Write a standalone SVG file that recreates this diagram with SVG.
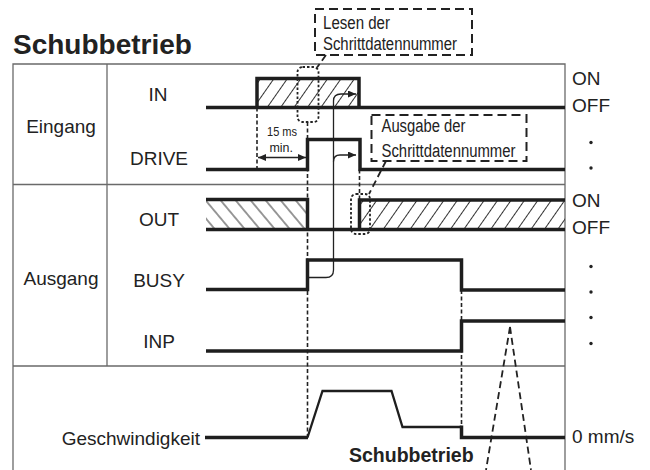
<svg xmlns="http://www.w3.org/2000/svg" width="650" height="470" viewBox="0 0 650 470">
<style>
text{font-family:"Liberation Sans",Arial,sans-serif;fill:#222}
.lbl{font-size:19px}
.mid{text-anchor:middle}
.tbl{stroke:#6a6a6a;stroke-width:1.3;fill:none}
.sig{stroke:#1e1e1e;stroke-width:3.5;fill:none;stroke-linejoin:miter}
.vel{stroke:#1e1e1e;stroke-width:2.3;fill:none;stroke-linejoin:miter}
.dash{stroke:#222;stroke-width:1.6;fill:none;stroke-dasharray:4 2.5}
.dot{stroke:#222;stroke-width:1.8;fill:none;stroke-dasharray:2.5 2}
.call{stroke:#222;stroke-width:2;fill:none;stroke-dasharray:9 5}
.thin{stroke:#222;stroke-width:1.3;fill:none}
.lead{stroke:#222;stroke-width:1.8;fill:none;stroke-dasharray:7 4}
</style>
<defs>
<pattern id="hR" patternUnits="userSpaceOnUse" width="11" height="11" patternTransform="rotate(35)"><line x1="5.5" y1="-1" x2="5.5" y2="12" stroke="#333" stroke-width="1"/></pattern>
<pattern id="hL" patternUnits="userSpaceOnUse" width="11.5" height="11.5" patternTransform="rotate(-40)"><line x1="5.75" y1="-1" x2="5.75" y2="12.5" stroke="#333" stroke-width="1"/></pattern>
<marker id="ah" markerUnits="userSpaceOnUse" markerWidth="9" markerHeight="8" refX="8" refY="3.5" orient="auto-start-reverse" viewBox="0 0 9 8"><path d="M0,0 L8,3.5 L0,7 z" fill="#222"/></marker>
</defs>

<g id="title"><text x="13" y="54" style="font-size:28px;font-weight:bold">Schubbetrieb</text></g>

<g id="table">
<path class="tbl" d="M13 470 V64 H565 V470 M107 64 V366 M13 184.5 H565 M13 366 H565"/>
</g>

<g id="labels">
<text class="lbl mid" x="61" y="133">Eingang</text>
<text class="lbl mid" x="61" y="285">Ausgang</text>
<text class="lbl mid" x="158" y="101">IN</text>
<text class="lbl mid" x="159" y="165">DRIVE</text>
<text class="lbl mid" x="159" y="226">OUT</text>
<text class="lbl mid" x="159" y="287">BUSY</text>
<text class="lbl mid" x="159" y="348">INP</text>
<text class="lbl" x="200" y="445" text-anchor="end">Geschwindigkeit</text>
<text class="lbl" x="572" y="85">ON</text>
<text class="lbl" x="572" y="112">OFF</text>
<text class="lbl" x="572" y="207">ON</text>
<text class="lbl" x="572" y="234">OFF</text>
<text class="lbl" x="572" y="443">0 mm/s</text>
<text x="349" y="462" style="font-size:19.5px;font-weight:bold">Schubbetrieb</text>
</g>

<g id="dots" fill="#222">
<circle cx="591" cy="142.5" r="1.7"/><circle cx="591" cy="168" r="1.7"/>
<circle cx="591" cy="266.5" r="1.7"/><circle cx="591" cy="292" r="1.7"/>
<circle cx="591" cy="317.5" r="1.7"/><circle cx="591" cy="343.5" r="1.7"/>
</g>

<g id="hatches">
<rect x="257" y="78.5" width="102" height="29" fill="url(#hR)"/>
<rect x="206" y="199.5" width="101.5" height="30" fill="url(#hL)"/>
<rect x="359.5" y="200" width="205.5" height="29.5" fill="url(#hR)"/>
</g>

<g id="connectors">
<path class="dash" d="M257 107.5 V169.5 M307.5 122 V437.5 M359.5 169.5 V199.5 M461.5 290 V427"/>
<path class="thin" d="M308 277.5 H326 Q333.5 277.5 333.5 270 V101 Q333.5 94 341 94 H356" marker-end="url(#ah)"/>
<path class="thin" d="M333.5 161.5 Q333.5 155 340 155 H356" marker-end="url(#ah)"/>
<path class="thin" d="M258 157.5 H306" marker-start="url(#ah)" marker-end="url(#ah)"/>
<path class="lead" d="M326 55 L317 67.5 M386 161 L369 194"/>
<path class="lead" d="M510 327 L486 470 M510 327 L531 470"/>
</g>

<g id="signals">
<path class="sig" d="M206 107.5 H565 M257 107.5 V78.5 H359 V107.5"/>
<path class="sig" d="M206 169.5 H307.5 V139.5 H360 V169.5 H565"/>
<path class="sig" d="M206 229.5 H565 M206 199.5 H307.5 V229.5 M359.5 229.5 V200 H565"/>
<path class="sig" d="M206 289.5 H307.5 V260 H461.5 V290 H565"/>
<path class="sig" d="M206 351 H461.5 V321 H565"/>
<path class="sig" d="M205 437.5 H308"/>
<path class="vel" d="M307.5 437.5 L322.5 391 H391.5 L402.5 427 H461.5"/>
<path class="sig" d="M461.5 425.5 V437.5 H565"/>
</g>

<g id="markers">
<rect class="dot" x="297.5" y="67" width="21" height="55" rx="5"/>
<rect class="dot" x="351" y="194" width="19" height="40" rx="5"/>
</g>

<g id="callout-lesen">
<rect class="call" x="315" y="9" width="157" height="46"/>
<text x="323" y="28.5" style="font-size:18px" textLength="67" lengthAdjust="spacingAndGlyphs">Lesen der</text>
<text x="323" y="50" style="font-size:18px" textLength="134" lengthAdjust="spacingAndGlyphs">Schrittdatennummer</text>
</g>

<g id="callout-ausgabe">
<rect class="call" x="371.5" y="115" width="155" height="46"/>
<text x="381.5" y="132" style="font-size:18px" textLength="84" lengthAdjust="spacingAndGlyphs">Ausgabe der</text>
<text x="381.5" y="156.5" style="font-size:18px" textLength="134" lengthAdjust="spacingAndGlyphs">Schrittdatennummer</text>
</g>

<g id="note-15ms">
<text x="267" y="136" style="font-size:13px" textLength="30" lengthAdjust="spacingAndGlyphs">15 ms</text>
<text x="269.5" y="151.5" style="font-size:13px" textLength="23.5" lengthAdjust="spacingAndGlyphs">min.</text>
</g>
</svg>
